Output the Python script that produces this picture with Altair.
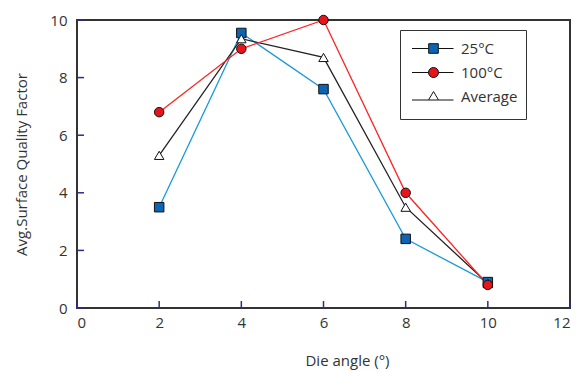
import altair as alt
import pandas as pd

angles = [2, 4, 6, 8, 10]
series = ["25°C", "100°C", "Average"]
v25 = [3.5, 9.55, 7.6, 2.4, 0.9]
v100 = [6.8, 9.0, 10.0, 4.0, 0.8]
vavg = [5.3, 9.35, 8.7, 3.5, 0.85]
x_ticks = [0, 2, 4, 6, 8, 10, 12]
y_ticks = [0, 2, 4, 6, 8, 10]

line_colors = ["#1a9ad8", "#ff2222", "#222222"]
fill_colors = ["#0b64b4", "#e8141b", "#ffffff"]
outline_colors = ["#111111", "#111111", "#111111"]
marker_shapes = ["square", "circle", "triangle-up"]
legend_shapes = [
    "M-2.15,0H-0.48M0.48,0H2.0M-0.48,-0.48H0.48V0.48H-0.48Z",
    "M-2.15,0H-0.5M0.5,0H2.0M0.5,0A0.5,0.5 0 1,1 -0.5,0A0.5,0.5 0 1,1 0.5,0Z",
    "M-2.15,0.35H-0.5M0.5,0.35H2.0M0,-0.5L0.5,0.35H-0.5Z",
]

draw_order = {"25°C": 0, "Average": 1, "100°C": 2}
rows = []
for name, vals in zip(series, [v25, v100, vavg]):
    for a, v in zip(angles, vals):
        rows.append({"angle": a, "value": v, "series": name, "ord": draw_order[name]})
df = pd.DataFrame(rows).sort_values(["ord", "angle"]).reset_index(drop=True)

FONT = "Open Sans"
TXT = "#333333"
TICK = "#2b2b8f"
W, H = 493, 288
TICK_LEN = 7


def leg():
    return alt.Legend(
        title=" ", titleOrient="bottom", titleFontSize=1, titlePadding=5,
        orient="none", legendX=323, legendY=10,
        padding=8, symbolOffset=15, labelOffset=17, rowPadding=5,
        symbolSize=400, symbolStrokeWidth=1,
        labelFont=FONT, labelFontSize=15, labelColor=TXT,
        strokeColor="#333333", fillColor="#ffffff", cornerRadius=0,
    )


xscale = alt.Scale(domain=[0, 12], nice=False)
yscale = alt.Scale(domain=[0, 10], nice=False)

x = alt.X(
    "angle:Q", scale=xscale,
    axis=alt.Axis(
        values=x_ticks, title="Die angle (°)", domain=False, grid=False, ticks=False,
        labelPadding=7, labelFont=FONT, labelFontSize=15, labelColor=TXT,
        titleFont=FONT, titleFontSize=15, titleFontWeight="normal", titleColor=TXT,
        titleX=270, titleY=52, titleBaseline="middle", titleAlign="center",
    ),
)
y = alt.Y(
    "value:Q", scale=yscale,
    axis=alt.Axis(
        values=y_ticks, title="Avg.Surface Quality Factor", domain=False, grid=False, ticks=False,
        labelPadding=10, labelFont=FONT, labelFontSize=15, labelColor=TXT,
        titleFont=FONT, titleFontSize=15, titleFontWeight="normal", titleColor=TXT,
        titleX=-56, titleY=144, titleBaseline="middle", titleAlign="center", titleAngle=270,
    ),
)

xtick_layer = alt.Chart(pd.DataFrame({"angle": x_ticks})).mark_rule(
    color=TICK, strokeWidth=1.5
).encode(x=x, y=alt.value(H), y2=alt.value(H - TICK_LEN))

ytick_layer = alt.Chart(pd.DataFrame({"value": y_ticks})).mark_rule(
    color=TICK, strokeWidth=1.5
).encode(y=y, x=alt.value(0), x2=alt.value(TICK_LEN))

base = alt.Chart(df)

lines = base.mark_line(strokeWidth=1.3).encode(
    x=x, y=y,
    color=alt.Color("series:N", scale=alt.Scale(domain=series, range=line_colors), legend=None),
    detail="series:N",
    order=alt.Order("angle:Q"),
)

points = base.mark_point(filled=True, size=90, stroke="#111111", strokeWidth=1, opacity=1).encode(
    x=x, y=y,
    shape=alt.Shape("series:N", scale=alt.Scale(domain=series, range=marker_shapes), legend=None),
    fill=alt.Fill("series:N", scale=alt.Scale(domain=series, range=fill_colors), legend=None),
)

legend_layer = alt.Chart(pd.DataFrame({"series": series})).transform_filter("false").mark_point(
    filled=True, size=400, strokeWidth=1, opacity=1
).encode(
    shape=alt.Shape("series:N", scale=alt.Scale(domain=series, range=legend_shapes), legend=leg()),
    fill=alt.Fill("series:N", scale=alt.Scale(domain=series, range=fill_colors), legend=leg()),
    stroke=alt.Stroke("series:N", scale=alt.Scale(domain=series, range=outline_colors), legend=leg()),
)

chart = alt.layer(xtick_layer, ytick_layer, lines, points, legend_layer).resolve_scale(
    shape="independent", fill="independent", color="independent", stroke="independent"
).properties(
    width=W, height=H,
    autosize=alt.AutoSizeParams(type="none"),
    padding={"left": 69, "top": 12, "right": 6, "bottom": 63},
    background="white",
).configure_view(stroke="#333333", strokeWidth=2)

chart.save("out.html", embed_options={"renderer": "svg", "actions": False})
